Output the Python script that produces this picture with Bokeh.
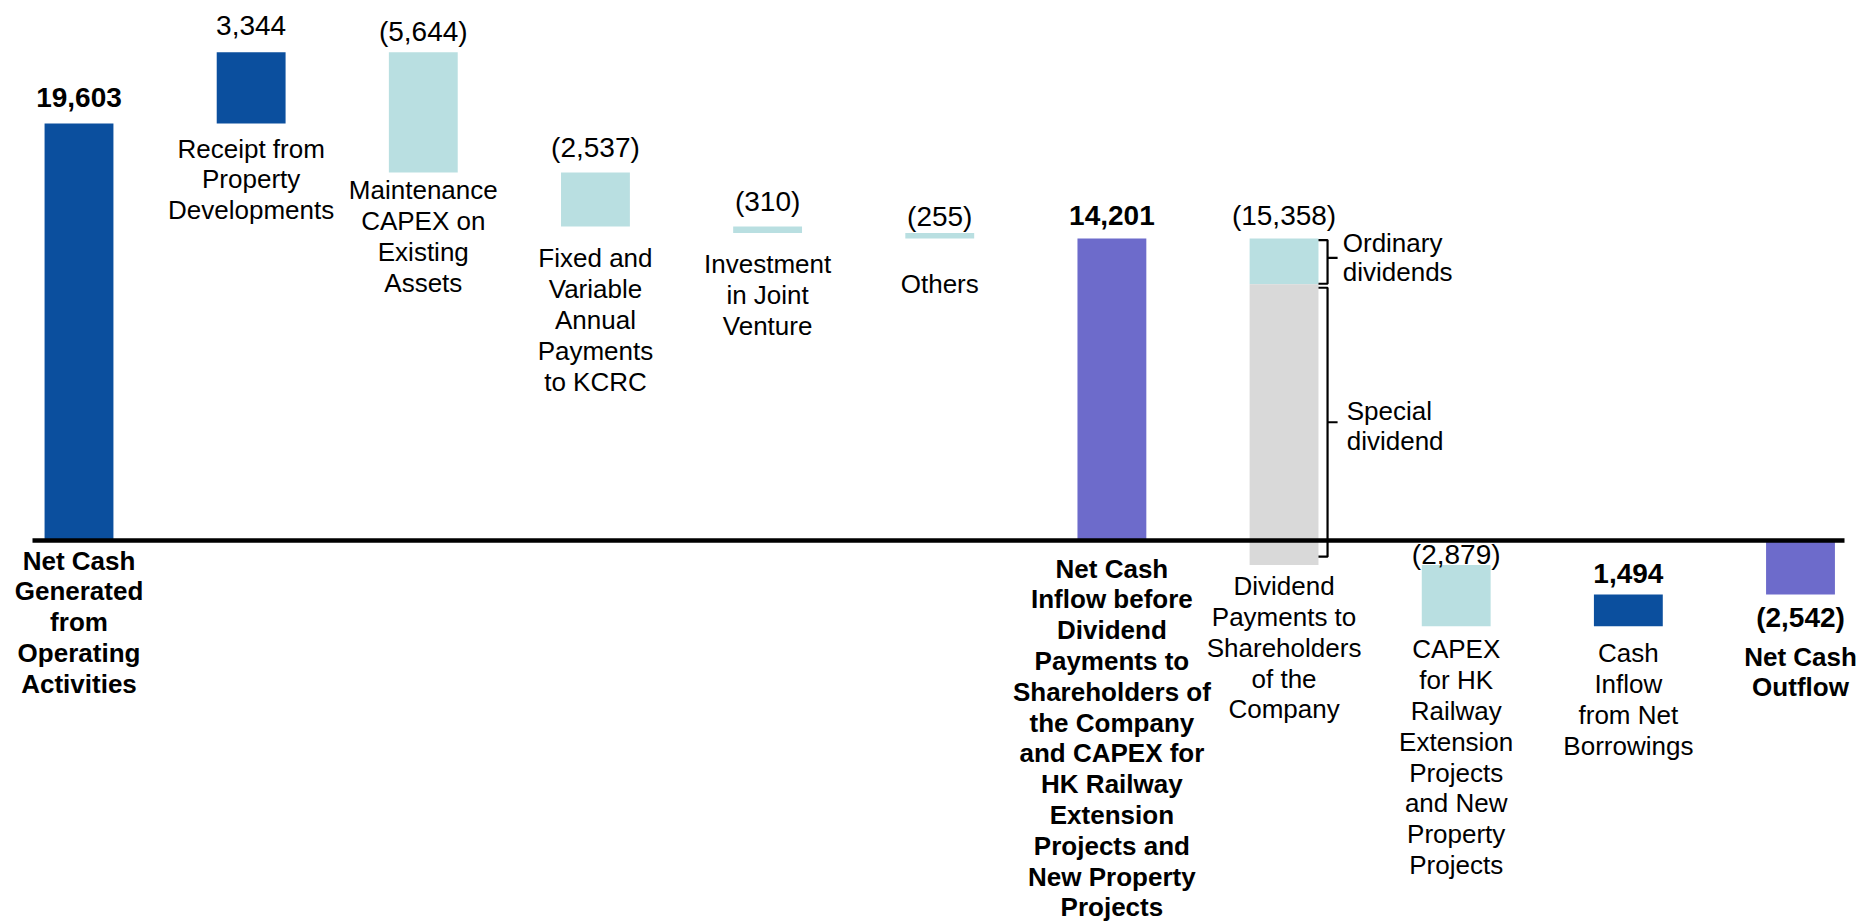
from bokeh.plotting import figure
from bokeh.models import Range1d
from bokeh.embed import file_html
from bokeh.resources import INLINE
from bokeh.core.properties import value

# ---------------- data ----------------
categories = [
    "Net Cash\nGenerated\nfrom\nOperating\nActivities",
    "Receipt from\nProperty\nDevelopments",
    "Maintenance\nCAPEX on\nExisting\nAssets",
    "Fixed and\nVariable\nAnnual\nPayments\nto KCRC",
    "Investment\nin Joint\nVenture",
    "Others",
    "Net Cash\nInflow before\nDividend\nPayments to\nShareholders of\nthe Company\nand CAPEX for\nHK Railway\nExtension\nProjects and\nNew Property\nProjects",
    "Dividend\nPayments to\nShareholders\nof the\nCompany",
    "CAPEX\nfor HK\nRailway\nExtension\nProjects\nand New\nProperty\nProjects",
    "Cash\nInflow\nfrom Net\nBorrowings",
    "Net Cash\nOutflow",
]
amounts = [19603, 3344, -5644, -2537, -310, -255, 14201, -15358, -2879, 1494, -2542]
is_total = [True, False, False, False, False, False, True, False, False, False, True]
dividend_parts = ["Ordinary\ndividends", "Special\ndividend"]
dividend_values = [2160, 13198]

# ---------------- styling / layout ----------------
BLUE = "#0B4F9E"
TEAL = "#B9DFE1"
PURPLE = "#6D6BCB"
GRAY = "#D9D9D9"
FONT = value("Liberation Sans")

W, H = 1859, 924
UPP = 47.01          # data units per pixel
AXIS_PX = 540        # pixel row of zero line
X0, STEP = 78.5, 172.15
BAR_W = 0.40
PITCH = 30.8
VSHIFT = 10.5        # px, baseline correction for value labels
CSHIFT = 9           # px, baseline correction for category labels

bold_values = [0, 6, 9, 10]
bold_labels = [0, 6, 10]
val_gap = [16, 16, 10, 14, 14, 6, 12, 12, 0, 11, None]  # px from bar top to baseline
cat_gap = [29, 34, 27, 41, 40, 55, 37, 30, 32, 36, 71]  # px from bar bottom to first baseline

p = figure(width=W, height=H, output_backend="svg", toolbar_location=None,
           x_range=Range1d(-X0 / STEP, (W - X0) / STEP),
           y_range=Range1d(-(H - AXIS_PX) * UPP, AXIS_PX * UPP),
           min_border=0, x_axis_location=None, y_axis_location=None)
p.outline_line_color = None
p.grid.visible = False
p.background_fill_color = "white"

# waterfall geometry
xs, los, his, cols = [], [], [], []
level = 0
first_total = True
for i, (a, tot) in enumerate(zip(amounts, is_total)):
    if tot:
        lo, hi = min(0, a), max(0, a)
        level = a
        c = BLUE if first_total else PURPLE
        first_total = False
    else:
        lo, hi = min(level, level + a), max(level, level + a)
        level += a
        c = BLUE if a > 0 else TEAL
    xs.append(i); los.append(lo); his.append(hi); cols.append(c)

div_idx = 7
bx, bb, bt, bc = [], [], [], []
for i in range(len(xs)):
    if i == div_idx:
        ordinary_bottom = his[i] - dividend_values[0]
        bx += [i, i]
        bb += [ordinary_bottom, los[i]]
        bt += [his[i], ordinary_bottom]
        bc += [TEAL, GRAY]
    else:
        bx.append(xs[i]); bb.append(los[i]); bt.append(his[i]); bc.append(cols[i])

p.vbar(x=bx, bottom=bb, top=bt, width=BAR_W, fill_color=bc, line_color=None)

# zero line
p.segment(x0=[(32 - X0) / STEP], y0=[0], x1=[(1844 - X0) / STEP], y1=[0],
          line_color="black", line_width=4.5)

# brackets for the dividend split
xc = div_idx
x_hook, x_v, x_tip = xc + BAR_W / 2, xc + 0.2527, xc + 0.311
seg_top = his[div_idx]
seg_mid = seg_top - dividend_values[0]
seg_bot = los[div_idx]
brackets = [(seg_top - 1.7 * UPP, seg_mid + 0.6 * UPP), (seg_mid - 3.4 * UPP, seg_bot + 8.4 * UPP)]
tip_adj = [4, 0]     # px upward shift of brace tip
tips = []
for (t, b), adj in zip(brackets, tip_adj):
    m = (t + b) / 2 + adj * UPP
    tips.append(m)
    p.line(x=[x_hook, x_v, x_v, x_tip, x_v, x_v, x_hook],
           y=[t, t, m, m, m, b, b], line_color="black", line_width=2.2)

def fmt(v):
    s = f"{abs(v):,}"
    return f"({s})" if v < 0 else s

def add_text(xl, yl, tl, size, bold, shift, align="center"):
    yl = [y + shift * UPP for y in yl]
    p.text(x=xl, y=yl, text=tl, text_font=FONT, text_font_size=size,
           text_font_style="bold" if bold else "normal", text_align=align,
           text_baseline="alphabetic", text_color="black")

# value labels
vb = {True: ([], [], []), False: ([], [], [])}
for i, a in enumerate(amounts):
    if val_gap[i] is None:
        y = los[i] - 33 * UPP
    else:
        y = his[i] + val_gap[i] * UPP
    g = vb[i in bold_values]
    g[0].append(xs[i]); g[1].append(y); g[2].append(fmt(a))
for b, (xl, yl, tl) in vb.items():
    add_text(xl, yl, tl, "28px", b, VSHIFT)

# category labels (one text per line)
cb = {True: ([], [], []), False: ([], [], [])}
for i, cat in enumerate(categories):
    base = los[i] - cat_gap[i] * UPP
    g = cb[i in bold_labels]
    for k, line in enumerate(cat.split("\n")):
        g[0].append(xs[i]); g[1].append(base - k * PITCH * UPP); g[2].append(line)
for b, (xl, yl, tl) in cb.items():
    add_text(xl, yl, tl, "26px", b, CSHIFT)

# dividend split labels
ax, ay, at = [], [], []
for j, (lab, tip) in enumerate(zip(dividend_parts, tips)):
    x_lab = xc + (0.341 if j == 0 else 0.364)
    first = tip + (6 if j == 0 else 2) * UPP
    for k, line in enumerate(lab.split("\n")):
        ax.append(x_lab); ay.append(first - k * 29.5 * UPP); at.append(line)
add_text(ax, ay, at, "26px", False, CSHIFT, align="left")

open("out.html", "w").write(file_html(p, INLINE))
